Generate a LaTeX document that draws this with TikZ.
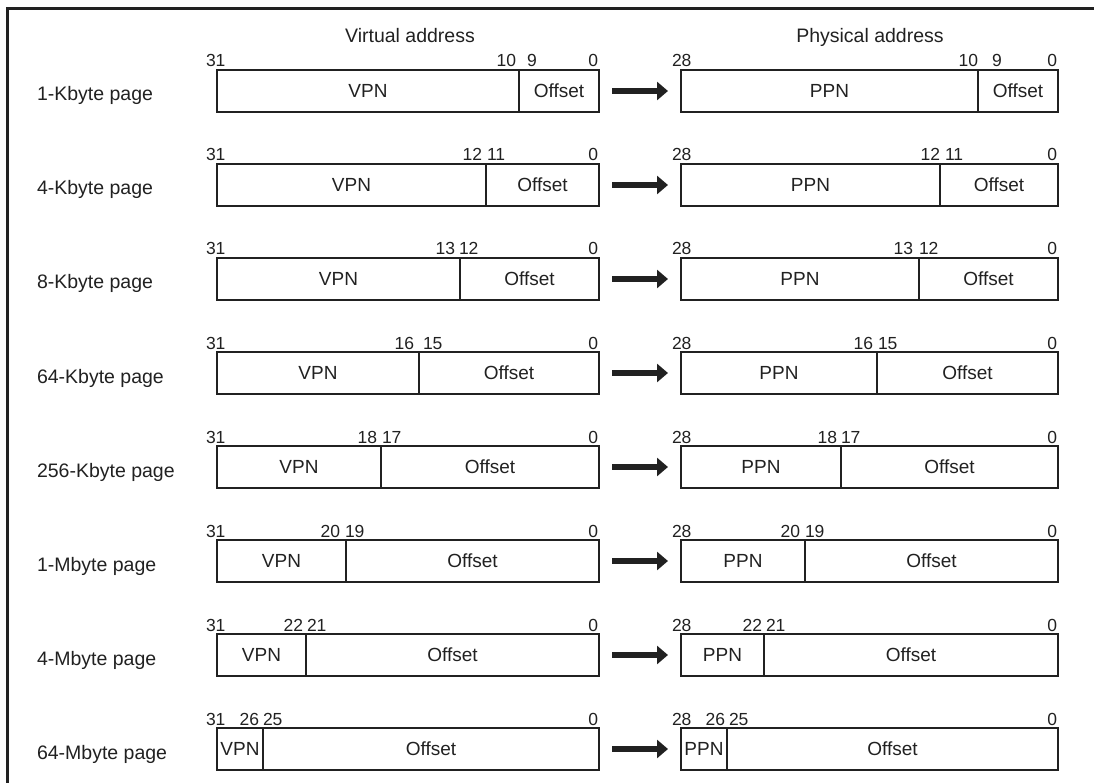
\documentclass[tikz,border=0pt]{standalone}
\usepackage{fontspec}
\setmainfont{Liberation Sans}
\usetikzlibrary{arrows.meta,calc}
\definecolor{ink}{gray}{0.13}
\begin{document}
\begin{tikzpicture}[x=1pt,y=-1pt,
  txt/.style={font=\fontsize{19.5}{23}\selectfont, text=ink, inner sep=0pt, outer sep=0pt},
  num/.style={font=\fontsize{17.5}{21}\selectfont, text=ink, inner sep=0pt, outer sep=0pt},
  field/.style={draw=ink, line width=1.2pt, minimum height=42pt, inner sep=0pt, outer sep=0pt,
                font=\fontsize{19}{23}\selectfont, text=ink, anchor=north west},
  outerbox/.style={draw=ink, line width=2.8pt, minimum height=42pt, inner sep=0pt, outer sep=0pt, anchor=north west},
  maparrow/.style={draw=ink, line width=5.5pt, -{Triangle[length=11pt,width=18pt]}},
  framestyle/.style={draw=ink, line width=3pt}]
\useasboundingbox (0,0) rectangle (1094,783);
\draw[framestyle] (7.5,783) -- (7.5,8.5) -- (1094,8.5);
\node[txt, anchor=base] (hv) at (410,43) {Virtual address};
\node[txt, anchor=base] (hp) at (870,43) {Physical address};
\foreach \t/\vd/\vh/\vl/\pd/\ph/\pl/\lab/\hi/\lo [count=\i] in {
  70/519/516/527/978/978/992/1-Kbyte/10/9,
  164/486/482/487/940/940/945/4-Kbyte/12/11,
  258/460/455/459/919/913/919/8-Kbyte/13/12,
  352/419/414/423/877/873/878/64-Kbyte/16/15,
  446/381/377/382/841/837/841/256-Kbyte/18/17,
  540/346/340/345/805/800/805/1-Mbyte/20/19,
  634/306/303/307/764/762/766/4-Mbyte/22/21,
  728/263/259/263/727/725/729/64-Mbyte/26/25}{
  \pgfmathsetmacro\vwa{\vd-217}
  \pgfmathsetmacro\vwb{599-\vd}
  \pgfmathsetmacro\pwa{\pd-681}
  \pgfmathsetmacro\pwb{1058-\pd}
  % row label
  \node[txt, anchor=base west] (lab\i) at (37,\t+31) {\lab{} page};
  % virtual address
  \node[field, minimum width=\vwa pt] (vn\i) at (217,\t) {VPN};
  \node[field, minimum width=\vwb pt] (vo\i) at (\vd,\t) {Offset};
  \node[outerbox, minimum width=382pt] (v\i) at (217,\t) {};
  \node[num, anchor=base west] (vt\i) at (206,\t-3) {31};
  \node[num, anchor=base east] (vz\i) at (598,\t-3) {0};
  \node[num, anchor=base east] (vh\i) at (\vh,\t-3) {\hi};
  \node[num, anchor=base west] (vl\i) at (\vl,\t-3) {\lo};
  % physical address
  \node[field, minimum width=\pwa pt] (pn\i) at (681,\t) {PPN};
  \node[field, minimum width=\pwb pt] (po\i) at (\pd,\t) {Offset};
  \node[outerbox, minimum width=377pt] (p\i) at (681,\t) {};
  \node[num, anchor=base west] (pt\i) at (672,\t-3) {28};
  \node[num, anchor=base east] (pz\i) at (1057,\t-3) {0};
  \node[num, anchor=base east] (ph\i) at (\ph,\t-3) {\hi};
  \node[num, anchor=base west] (pl\i) at (\pl,\t-3) {\lo};
  % arrow
  \draw[maparrow] ([xshift=13pt]v\i.east) -- ([xshift=-13pt]p\i.west);
}
\end{tikzpicture}
\end{document}
